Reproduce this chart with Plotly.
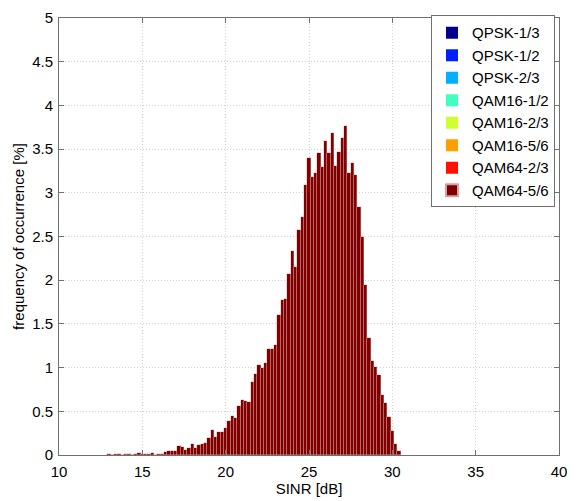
import plotly.graph_objects as go

sinr_bins = [13.0, 13.2, 13.4, 13.6, 13.8, 14.0, 14.2, 14.4, 14.6, 14.8,
             15.0, 15.2, 15.4, 15.6, 15.8, 16.0, 16.2, 16.4, 16.6, 16.8,
             17.0, 17.2, 17.4, 17.6, 17.8, 18.0, 18.2, 18.4, 18.6, 18.8,
             19.0, 19.2, 19.4, 19.6, 19.8, 20.0, 20.2, 20.4, 20.6, 20.8,
             21.0, 21.2, 21.4, 21.6, 21.8, 22.0, 22.2, 22.4, 22.6, 22.8,
             23.0, 23.2, 23.4, 23.6, 23.8, 24.0, 24.2, 24.4, 24.6, 24.8,
             25.0, 25.2, 25.4, 25.6, 25.8, 26.0, 26.2, 26.4, 26.6, 26.8,
             27.0, 27.2, 27.4, 27.6, 27.8, 28.0, 28.2, 28.4, 28.6, 28.8,
             29.0, 29.2, 29.4, 29.6, 29.8, 30.0, 30.2, 30.4]

qam64_56 = [0.01, 0.0, 0.01, 0.01, 0.005, 0.01, 0.01, 0.005, 0.01, 0.02,
            0.01, 0.01, 0.01, 0.025, 0.005, 0.01, 0.01, 0.03, 0.045, 0.045,
            0.045, 0.10, 0.09, 0.06, 0.085, 0.13, 0.08, 0.11, 0.13, 0.14,
            0.19, 0.29, 0.21, 0.26, 0.26, 0.31, 0.39, 0.45, 0.42, 0.56,
            0.63, 0.62, 0.61, 0.83, 0.93, 1.03, 0.99, 1.05, 1.21, 1.21,
            1.26, 1.60, 1.77, 1.78, 2.07, 2.33, 2.15, 2.58, 2.72, 3.09,
            3.40, 3.18, 3.23, 3.45, 3.30, 3.59, 3.46, 3.68, 3.31, 3.47,
            3.63, 3.76, 3.23, 3.34, 3.20, 2.84, 2.49, 1.95, 1.34, 1.07,
            1.01, 0.92, 0.69, 0.59, 0.44, 0.28, 0.13, 0.05]

schemes = ["QPSK-1/3", "QPSK-1/2", "QPSK-2/3", "QAM16-1/2",
           "QAM16-2/3", "QAM16-5/6", "QAM64-2/3", "QAM64-5/6"]
scheme_colors = ["#00008F", "#0020FF", "#00AFFF", "#40FFBF",
                 "#CFFF30", "#FF9F00", "#FF1000", "#800000"]

x_ticks = [10, 15, 20, 25, 30, 35, 40]
y_ticks = [0, 0.5, 1, 1.5, 2, 2.5, 3, 3.5, 4, 4.5, 5]
y_tick_labels = ["0", "0.5", "1", "1.5", "2", "2.5", "3", "3.5", "4", "4.5", "5"]

fig = go.Figure()
for name, col in zip(schemes, scheme_colors):
    if name == "QAM64-5/6":
        yv = qam64_56
        lw = 0.4
    else:
        yv = [0.0] * len(sinr_bins)
        lw = 0
    fig.add_trace(go.Bar(
        x=sinr_bins, y=yv, name=name, width=0.2,
        marker=dict(color=col, line=dict(color="#d8a0a0", width=lw)),
        hoverinfo="skip"))

FONT = "Liberation Sans, Arial, sans-serif"
axis_common = dict(
    showline=True, linecolor="#707070", linewidth=1, mirror="ticks",
    ticks="inside", ticklen=5, tickcolor="#707070",
    showgrid=True, gridcolor="#d0d0d0", griddash="1px,2px", gridwidth=1,
    zeroline=False,
    tickfont=dict(family=FONT, size=15, color="#000"),
)

fig.update_layout(
    width=579, height=501,
    margin=dict(l=59, r=20, t=9, b=43),
    paper_bgcolor="white", plot_bgcolor="white",
    barmode="stack", bargap=0,
    font=dict(family=FONT, size=15, color="#000"),
    xaxis=dict(range=[10, 40], tickvals=x_ticks, ticklabelstandoff=3,
               title=dict(text="SINR [dB]", standoff=1, font=dict(size=15)),
               **axis_common),
    yaxis=dict(range=[0, 5], tickvals=y_ticks, ticktext=y_tick_labels,
               ticklabelstandoff=2,
               title=dict(text="frequency of occurrence [%]", standoff=3, font=dict(size=15)),
               **axis_common),
    legend=dict(x=0.992, xanchor="right", y=1.006, yanchor="top",
                bgcolor="white", bordercolor="#707070", borderwidth=1,
                font=dict(size=15), tracegroupgap=0, traceorder="normal",
                itemsizing="constant"),
)

fig.write_html("out.html")
